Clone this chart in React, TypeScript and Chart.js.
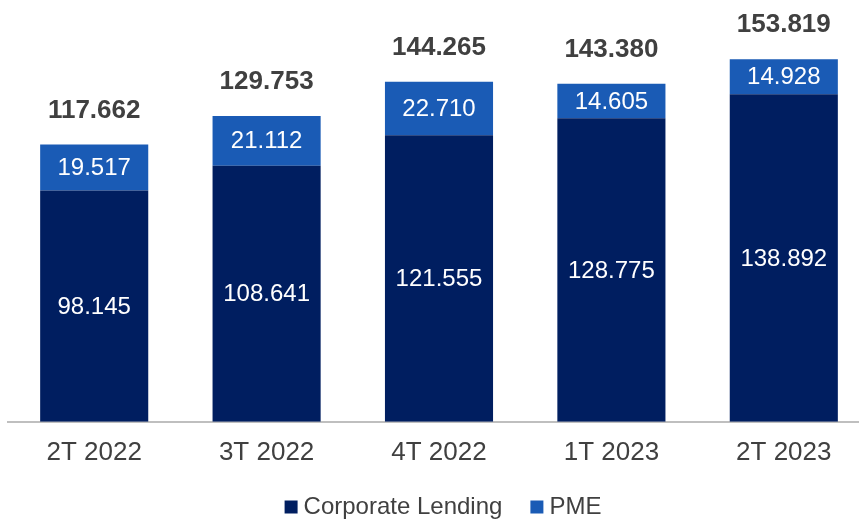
import React, { useEffect, useRef } from "react";
import { Chart, registerables } from "chart.js";

Chart.register(...registerables);

const categories = ["2T 2022", "3T 2022", "4T 2022", "1T 2023", "2T 2023"];
const corporateLending = [98.145, 108.641, 121.555, 128.775, 138.892];
const pme = [19.517, 21.112, 22.71, 14.605, 14.928];
const totals = [117.662, 129.753, 144.265, 143.38, 153.819];

const NAVY = "#001E60";
const BLUE = "#1A5BB5";
const TEXT = "#404040";
const FONT = "'Liberation Sans', Arial, sans-serif";

const fmt = (v: number) => v.toFixed(3);

const labelsPlugin = {
  id: "barLabels",
  afterLayout(chart: any) {
    if (chart.legend) {
      chart.legend.left += 7;
      chart.legend.right += 7;
    }
  },
  afterDatasetsDraw(chart: any) {
    const ctx = chart.ctx;
    ctx.save();
    ctx.textAlign = "center";
    ctx.textBaseline = "middle";
    chart.data.datasets.forEach((ds: any, di: number) => {
      const meta = chart.getDatasetMeta(di);
      meta.data.forEach((bar: any, i: number) => {
        const top = Math.min(bar.y, bar.base);
        const bottom = Math.max(bar.y, bar.base);
        ctx.fillStyle = "#FFFFFF";
        ctx.font = `24px ${FONT}`;
        ctx.fillText(fmt(ds.data[i]), bar.x, (top + bottom) / 2 + 1);
      });
    });
    const lastMeta = chart.getDatasetMeta(chart.data.datasets.length - 1);
    ctx.fillStyle = TEXT;
    ctx.font = `bold 26px ${FONT}`;
    lastMeta.data.forEach((bar: any, i: number) => {
      ctx.fillText(fmt(totals[i]), bar.x, bar.y - 34);
    });
    ctx.restore();
  },
};

export default function App() {
  const ref = useRef<HTMLCanvasElement | null>(null);
  useEffect(() => {
    if (!ref.current) return;
    const chart = new Chart(ref.current, {
      type: "bar",
      data: {
        labels: categories,
        datasets: [
          {
            label: "Corporate Lending",
            data: corporateLending,
            backgroundColor: NAVY,
            barPercentage: 0.627,
            categoryPercentage: 1,
          },
          {
            label: "PME",
            data: pme,
            backgroundColor: BLUE,
            barPercentage: 0.627,
            categoryPercentage: 1,
          },
        ],
      },
      options: {
        responsive: false,
        animation: false,
        devicePixelRatio: 1,
        layout: { padding: { left: 8, right: 0, top: 21, bottom: -10 } },
        plugins: {
          tooltip: { enabled: false },
          legend: {
            position: "bottom",
            labels: {
              color: TEXT,
              font: { size: 24, family: FONT },
              usePointStyle: true,
              pointStyle: "rect",
              boxWidth: 1,
              boxHeight: 13,
              padding: 34,
              generateLabels: (chart: any) =>
                chart.data.datasets.map((ds: any, i: number) => ({
                  text: ds.label,
                  fillStyle: ds.backgroundColor,
                  strokeStyle: ds.backgroundColor,
                  lineWidth: 0,
                  pointStyle: "rect",
                  fontColor: TEXT,
                  hidden: false,
                  datasetIndex: i,
                })),
            },
          },
        },
        scales: {
          x: {
            stacked: true,
            grid: { display: false },
            border: { display: true, color: "#BFBFBF", width: 2 },
            ticks: {
              color: TEXT,
              font: { size: 26, family: FONT },
              padding: 7,
            },
            afterFit: (scale: any) => {
              scale.height -= 14;
            },
          },
          y: {
            stacked: true,
            display: false,
            min: 0,
            max: 170,
          },
        },
      },
      plugins: [labelsPlugin],
    });
    return () => chart.destroy();
  }, []);
  return (
    <div
      style={{
        position: "fixed",
        left: 0,
        top: 0,
        width: 859,
        height: 519,
        overflow: "hidden",
        background: "#fff",
      }}
    >
      <canvas ref={ref} width={870} height={519} style={{ display: "block" }} />
    </div>
  );
}
